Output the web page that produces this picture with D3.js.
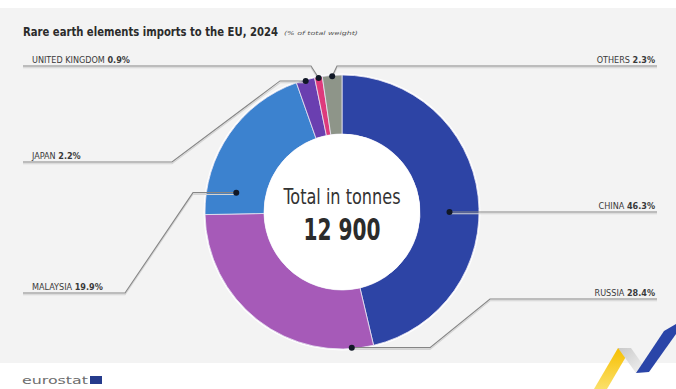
<!DOCTYPE html>
<html>
<head>
<meta charset="utf-8">
<script src="https://cdn.jsdelivr.net/npm/d3@7"></script>
<style>
  html, body { margin: 0; padding: 0; background: #ffffff; }
  svg { display: block; }
</style>
</head>
<body>
<svg id="chart" width="676" height="389"></svg>
<script>
// ---- data ----
const countries = ["CHINA", "RUSSIA", "MALAYSIA", "JAPAN", "UNITED KINGDOM", "OTHERS"];
const shares = [46.3, 28.4, 19.9, 2.2, 0.9, 2.3];          // % of total weight
const totalTonnes = 12900;
const titleText = "Rare earth elements imports to the EU, 2024";
const unitText = "(% of total weight)";
const centerCaption = "Total in tonnes";

// ---- styling ----
const sliceColors = ["#2d44a5", "#a65ab8", "#3c82cf", "#6a3fb0", "#de3a7c", "#8e9589"];

// callout layout per slice: where the dot sits inside the slice (fraction of the slice's
// angular span, and ring position), which side the label goes to, the label line height,
// and the x of the bends in the leader
const callouts = [
  { t: 0.54, ring: "mid",   side: "right", lineY: 212, bendA: null, bendB: null },
  { t: 0.09, ring: "outer", side: "right", lineY: 299, bendA: 430,  bendB: 490 },
  { t: 0.16, ring: "mid",   side: "left",  lineY: 293, bendA: 193,  bendB: 125 },
  { t: 0.5,  ring: "outer", side: "left",  lineY: 162, bendA: 280,  bendB: 172 },
  { t: 0.5,  ring: "outer", side: "left",  lineY: 66,  bendA: null, bendB: 311 },
  { t: 0.5,  ring: "outer", side: "right", lineY: 66,  bendA: null, bendB: 337 }
];

const W = 676, H = 389;
const cx = 342, cy = 212;
const rOuter = 137, rInner = 78;
const leftEdge = 23, rightEdge = 657;
const labelFont = "'Liberation Sans Narrow', 'DejaVu Sans Condensed', 'Arial Narrow', sans-serif";

const svg = d3.select("#chart");

// squeeze a text horizontally so it spans the given width, keeping its left edge in place
function fitWidth(sel, width) {
  const node = sel.node();
  const natural = node.getComputedTextLength();
  const x = +sel.attr("x");
  const k = width / natural;
  sel.attr("transform", `translate(${x * (1 - k)},0) scale(${k},1)`);
  return sel;
}

// background panels
svg.append("rect").attr("x", 0).attr("y", 0).attr("width", W).attr("height", H).attr("fill", "#ffffff");
svg.append("rect").attr("x", 0).attr("y", 8).attr("width", W).attr("height", 355).attr("fill", "#f3f3f3");

// title
fitWidth(svg.append("text")
  .attr("x", 23).attr("y", 36)
  .attr("font-family", labelFont)
  .attr("font-weight", 700)
  .attr("font-size", 12.5)
  .attr("fill", "#2b2b2b")
  .text(titleText), 255);
fitWidth(svg.append("text")
  .attr("x", 284).attr("y", 35)
  .attr("font-family", labelFont)
  .attr("font-style", "italic")
  .attr("font-size", 5.5)
  .attr("fill", "#555")
  .text(unitText), 74);

// donut
const pie = d3.pie().sort(null).value(d => d)(shares);
const arc = d3.arc().innerRadius(rInner).outerRadius(rOuter);

const g = svg.append("g").attr("transform", `translate(${cx},${cy})`);

g.append("circle").attr("r", rOuter + 1.5).attr("fill", "#ffffff");
g.selectAll("path.slice")
  .data(pie)
  .join("path")
  .attr("class", "slice")
  .attr("d", arc)
  .attr("fill", (d, i) => sliceColors[i])
  .attr("stroke", "#e9e6f2")
  .attr("stroke-width", 0.8);
g.append("circle").attr("r", rInner).attr("fill", "#ffffff");

// centre text
g.append("text")
  .attr("y", -8)
  .attr("text-anchor", "middle")
  .attr("font-family", labelFont)
  .attr("font-size", 22)
  .attr("fill", "#333")
  .attr("textLength", 117)
  .attr("lengthAdjust", "spacingAndGlyphs")
  .text(centerCaption);
g.append("text")
  .attr("y", 28)
  .attr("text-anchor", "middle")
  .attr("font-family", labelFont)
  .attr("font-weight", 700)
  .attr("font-size", 31)
  .attr("fill", "#2b2b2b")
  .attr("textLength", 77)
  .attr("lengthAdjust", "spacingAndGlyphs")
  .text(d3.format(",")(totalTonnes).replace(/,/g, " "));

// callouts: dot, leader line and label
const pct = d3.format(".1f");
pie.forEach((d, i) => {
  const c = callouts[i];
  const a = d.startAngle + (d.endAngle - d.startAngle) * c.t;
  const r = c.ring === "mid" ? (rInner + rOuter) / 2 : rOuter - 1;
  const px = cx + r * Math.sin(a);
  const py = cy - r * Math.cos(a);
  const edge = c.side === "right" ? rightEdge : leftEdge;
  const straight = c.bendA === null && c.bendB === null;
  const yLine = straight ? py : c.lineY;

  const pts = [[px, py]];
  if (c.bendA !== null) pts.push([c.bendA, py]);
  if (c.bendB !== null) pts.push([c.bendB, yLine]);
  pts.push([edge, yLine]);

  const line = d3.line();
  // soft shadow under each leader
  svg.append("path")
    .attr("d", line(pts.map(p => [p[0], p[1] + 1.8])))
    .attr("fill", "none")
    .attr("stroke", "#d4d4d4")
    .attr("stroke-width", 1.1);
  svg.append("path")
    .attr("d", line(pts))
    .attr("fill", "none")
    .attr("stroke", "#858585")
    .attr("stroke-width", 1.1);

  svg.append("circle")
    .attr("cx", px).attr("cy", py)
    .attr("r", 3)
    .attr("fill", "#111826");

  const label = svg.append("text")
    .attr("x", c.side === "right" ? rightEdge - 2 : leftEdge + 9)
    .attr("y", yLine - 3.5)
    .attr("text-anchor", c.side === "right" ? "end" : "start")
    .attr("font-family", labelFont)
    .attr("font-size", 9)
    .attr("fill", "#3a3a3a");
  label.append("tspan").text(countries[i] + " ");
  label.append("tspan").attr("font-weight", 700).text(pct(shares[i]) + "%");
});

// footer: eurostat mark
svg.append("text")
  .attr("x", 22).attr("y", 384)
  .attr("font-family", "'DejaVu Sans', sans-serif")
  .attr("font-size", 11)
  .attr("fill", "#6e6e6e")
  .attr("textLength", 66)
  .attr("lengthAdjust", "spacingAndGlyphs")
  .text("eurostat");
svg.append("rect")
  .attr("x", 90).attr("y", 376).attr("width", 12).attr("height", 8)
  .attr("fill", "#253b8c");

// footer ribbon at bottom right
const defs = svg.append("defs");
const fold = defs.append("linearGradient").attr("id", "fold").attr("x1", 0).attr("y1", 0).attr("x2", 1).attr("y2", 1);
fold.append("stop").attr("offset", 0).attr("stop-color", "#c9c9c9");
fold.append("stop").attr("offset", 1).attr("stop-color", "#f4f4f4");
const yel = defs.append("linearGradient").attr("id", "yel").attr("x1", 0).attr("y1", 1).attr("x2", 0).attr("y2", 0);
yel.append("stop").attr("offset", 0).attr("stop-color", "#fbe06a");
yel.append("stop").attr("offset", 1).attr("stop-color", "#f6bf00");

svg.append("polygon").attr("points", "594,389 618,348 631,348 607,389").attr("fill", "url(#yel)");
svg.append("polygon").attr("points", "618,348 631,348 648,372 636,373").attr("fill", "url(#fold)");
svg.append("polygon").attr("points", "636,373 664,331 676,324 676,334 649,372").attr("fill", "#2a45a8");
</script>
</body>
</html>
